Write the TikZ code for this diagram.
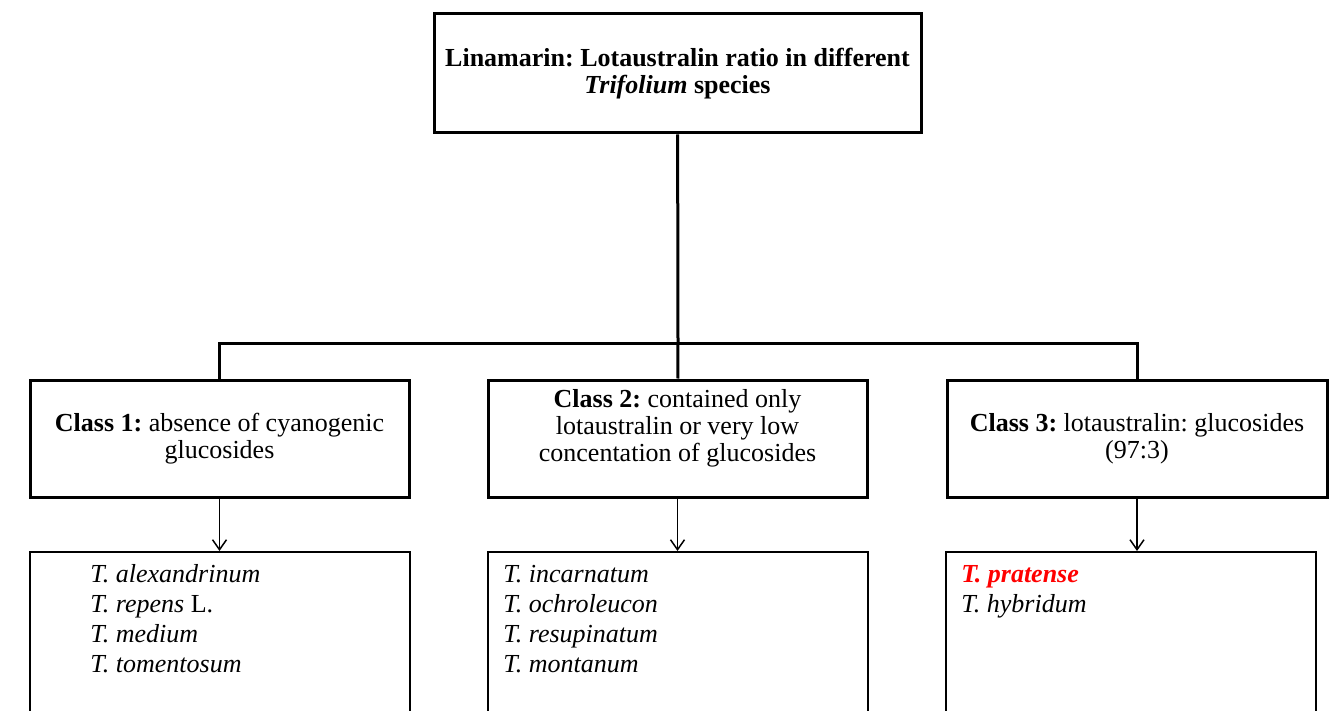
\documentclass[tikz,border=0pt]{standalone}
\usepackage{fontspec}
\setmainfont{Liberation Serif}
\usetikzlibrary{arrows.meta}
\frenchspacing

\tikzset{
	headbox/.style={draw, line width=1.5pt, align=center, inner sep=0pt, font=\fontsize{13}{13.5}\selectfont},
	listbox/.style={draw, line width=0.75pt, anchor=north, minimum height=160pt, inner sep=0pt},
	listtext/.style={anchor=north west, align=left, inner sep=0pt, font=\fontsize{13}{15}\selectfont\itshape},
	link/.style={line width=1.5pt},
	pointer/.style={line width=0.75pt, -{Straight Barb[length=5pt,width=7pt]}}
}

\begin{document}
\begin{tikzpicture}[x=0.5pt, y=-0.5pt]
	\useasboundingbox (0,0) rectangle (1338,711);
	\clip (0,0) rectangle (1338,711);

	\node[headbox, font=\fontsize{13}{13.5}\selectfont\bfseries, minimum width=243.5pt, minimum height=59.5pt] (top) at (677.5,73.5)
		{Linamarin: Lotaustralin ratio in different\\\textit{Trifolium} species};

	\node[headbox, minimum width=189.5pt, minimum height=58.5pt] (c1) at (219.5,438.5)
		{\textbf{Class 1:} absence of cyanogenic\\glucosides};
	\node[headbox, minimum width=189.5pt, minimum height=58.5pt] (c2) at (677.5,438.5)
		{\textbf{Class 2:} contained only\\lotaustralin or very low\\concentation of glucosides\\\mbox{}};
	\node[headbox, minimum width=190pt, minimum height=58.5pt] (c3) at (1137,438.5)
		{\textbf{Class 3:} lotaustralin: glucosides\\(97:3)};

	\node[listbox, minimum width=190pt] (l1) at (220,551) {};
	\node[listbox, minimum width=190pt] (l2) at (678,551) {};
	\node[listbox, minimum width=185pt] (l3) at (1131,551) {};

	\node[listtext] (s1) at (90,561) {\strut T. alexandrinum\\T. repens \upshape L.\\T. medium\\T. tomentosum};
	\node[listtext] (s2) at (503,561) {\strut T. incarnatum\\T. ochroleucon\\T. resupinatum\\T. montanum};
	\node[listtext] (s3) at (961,561) {\strut{\bfseries\color{red}T. pratense}\\T. hybridum};

	% tree lines
	\coordinate (bar) at (678,343);
	\draw[link] (top) -- (bar);
	\draw[link] (c1) |- (bar) -| (c3);
	\draw[link] (bar) -- (c2);

	\foreach \n in {1,2,3}
		\draw[pointer] (c\n) -- (c\n |- l\n.north);
\end{tikzpicture}
\end{document}
